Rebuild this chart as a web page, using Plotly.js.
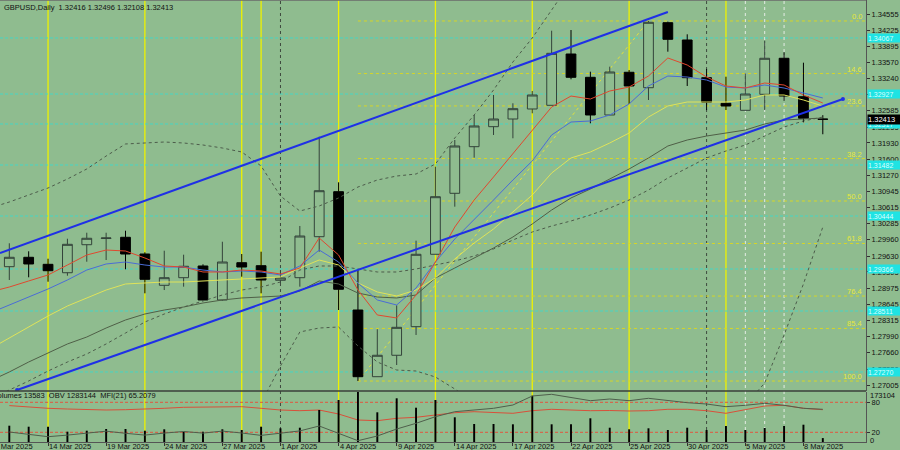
<!DOCTYPE html>
<html><head><meta charset="utf-8">
<script src="https://cdn.plot.ly/plotly-3.0.1.min.js"></script>
<style>html,body{margin:0;padding:0;background:#8FBC8F;}#chart{width:900px;height:450px;}</style>
</head><body><div id="chart"></div>
<script>
const dates = ["12 Mar 2025","13 Mar 2025","14 Mar 2025","17 Mar 2025","18 Mar 2025","19 Mar 2025","20 Mar 2025","21 Mar 2025","24 Mar 2025","25 Mar 2025","26 Mar 2025","27 Mar 2025","28 Mar 2025","31 Mar 2025","1 Apr 2025","2 Apr 2025","3 Apr 2025","4 Apr 2025","7 Apr 2025","8 Apr 2025","9 Apr 2025","10 Apr 2025","11 Apr 2025","14 Apr 2025","15 Apr 2025","16 Apr 2025","17 Apr 2025","18 Apr 2025","21 Apr 2025","22 Apr 2025","23 Apr 2025","24 Apr 2025","25 Apr 2025","28 Apr 2025","29 Apr 2025","30 Apr 2025","1 May 2025","2 May 2025","5 May 2025","6 May 2025","7 May 2025","8 May 2025","9 May 2025"];
const open  = [1.29413,1.29604,1.29461,1.29290,1.29860,1.29986,1.30011,1.29671,1.29034,1.29189,1.29427,1.28735,1.29494,1.29433,1.29136,1.29189,1.30023,1.30939,1.28531,1.27174,1.27610,1.28192,1.29665,1.30906,1.31855,1.32262,1.32418,1.32622,1.32697,1.33741,1.33267,1.32500,1.33369,1.33055,1.34378,1.34026,1.33259,1.32738,1.32595,1.32921,1.33654,1.32872,1.32416];
const high  = [1.29889,1.29726,1.29575,1.29982,1.30104,1.30104,1.30145,1.29706,1.29738,1.29657,1.29461,1.29921,1.29671,1.29718,1.29345,1.30241,1.32058,1.31130,1.29345,1.28139,1.28627,1.29942,1.31448,1.31991,1.32500,1.32907,1.32738,1.32988,1.34215,1.34229,1.33381,1.33483,1.33415,1.34413,1.34400,1.34142,1.33436,1.33279,1.33348,1.34012,1.33776,1.33564,1.32496];
const low   = [1.29142,1.29197,1.29107,1.29229,1.29514,1.29549,1.29360,1.28871,1.28938,1.29006,1.28725,1.28721,1.29209,1.28871,1.29081,1.29006,1.29718,1.28531,1.27086,1.27174,1.27412,1.28023,1.29665,1.30634,1.31631,1.32093,1.32026,1.32534,1.32697,1.33226,1.32331,1.32500,1.32724,1.32805,1.33788,1.33090,1.32601,1.32601,1.32595,1.32601,1.32791,1.32351,1.32108];
const close = [1.29604,1.29468,1.29331,1.29868,1.29991,1.29997,1.29671,1.29156,1.29189,1.29421,1.28735,1.29508,1.29406,1.29142,1.29183,1.30037,1.30959,1.28953,1.27174,1.27610,1.28179,1.29665,1.30837,1.31869,1.32276,1.32418,1.32628,1.32907,1.33755,1.33267,1.32500,1.33375,1.33090,1.34386,1.34040,1.33259,1.32758,1.32683,1.32927,1.33654,1.32886,1.32433,1.32413];

// indicator lines: first value is the bar before 12 Mar (11 Mar)
const maRed    = [1.28898,1.28999,1.29122,1.29244,1.29447,1.29651,1.29752,1.29732,1.29590,1.29427,1.29406,1.29305,1.29305,1.29345,1.29325,1.29264,1.29386,1.29997,1.29651,1.28938,1.28430,1.28369,1.28837,1.29508,1.30220,1.30770,1.31238,1.31706,1.32174,1.32662,1.32886,1.32825,1.32988,1.33069,1.33293,1.33660,1.33517,1.33273,1.33090,1.33049,1.33151,1.33110,1.32907,1.32744];
const maBlue   = [1.28470,1.28633,1.28796,1.28959,1.29142,1.29345,1.29468,1.29508,1.29447,1.29406,1.29406,1.29345,1.29305,1.29325,1.29305,1.29244,1.29427,1.29752,1.29508,1.29081,1.28735,1.28633,1.28979,1.29508,1.29976,1.30363,1.30770,1.31177,1.31564,1.32093,1.32357,1.32378,1.32500,1.32724,1.33090,1.33293,1.33273,1.33212,1.33069,1.33049,1.33110,1.33049,1.32947,1.32846];
const maYellow = [1.27738,1.27962,1.28185,1.28409,1.28613,1.28776,1.28938,1.29061,1.29081,1.29101,1.29101,1.29122,1.29142,1.29162,1.29183,1.29203,1.29386,1.29549,1.29447,1.29081,1.28898,1.28816,1.28938,1.29183,1.29569,1.29895,1.30180,1.30526,1.30872,1.31319,1.31625,1.31747,1.31930,1.32133,1.32459,1.32683,1.32764,1.32764,1.32764,1.32805,1.32907,1.32907,1.32805,1.32683];
const maOlive  = [1.27087,1.27270,1.27473,1.27656,1.27840,1.27982,1.28165,1.28328,1.28450,1.28531,1.28592,1.28674,1.28735,1.28776,1.28796,1.28816,1.28918,1.29122,1.29061,1.28877,1.28796,1.28776,1.28837,1.29183,1.29386,1.29590,1.29793,1.30017,1.30282,1.30566,1.30811,1.30994,1.31197,1.31401,1.31625,1.31869,1.31991,1.32072,1.32133,1.32194,1.32317,1.32398,1.32418,1.32439];
const bandUpper = [1.30607,1.30729,1.30872,1.31014,1.31197,1.31401,1.31665,1.31910,1.31930,1.31950,1.31930,1.31889,1.31828,1.31747,1.31462,1.30851,1.30546,1.30648,1.30811,1.31034,1.31177,1.31258,1.31299,1.31503,1.32032,1.32500,1.33008,1.33578,1.34067,1.34636,1.35206,null,null,null,null,null,null,null,null,null,null,null,null,null];
const bandLower = [null,null,null,null,null,null,null,null,null,null,null,null,null,null,1.26639,1.27392,1.28084,1.28165,1.28185,1.27799,1.27473,1.27310,1.27290,1.27168,1.26924,1.26659,null,null,null,null,null,null,null,null,null,null,null,null,null,1.26598,1.27046,1.28023,1.29061,1.30220];
const bandMid  = [1.26720,1.26903,1.27087,1.27290,1.27473,1.27636,1.27840,1.28063,1.28287,1.28450,1.28592,1.28715,1.28837,1.28938,1.28999,1.29101,1.29345,1.29427,1.29427,1.29366,1.29305,1.29305,1.29366,1.29447,1.29529,1.29630,1.29773,1.29956,1.30119,1.30241,1.30343,1.30465,1.30607,1.30770,1.30973,1.31218,1.31421,1.31625,1.31767,1.31889,1.32072,1.32255,1.32378,1.32459];

const volumes = [56431,52969,52969,35659,39121,45006,45006,39121,43967,35659,35659,43967,41544,52969,47429,49507,110784,145404,173104,102821,151289,118747,145404,85511,62316,62316,61277,160291,61277,61277,82049,49507,43967,47429,41544,49507,41544,55392,41544,48468,55392,59893,13583];
const obv = [788284,735964,685824,720704,759944,805724,759944,720704,764304,799184,764304,807904,766484,714164,762124,812264,919084,759944,598624,701084,853684,977944,1121824,1230824,1267884,1304944,1376884,1573084,1610144,1544744,1470624,1507684,1470624,1522944,1470624,1427024,1398684,1339824,1370344,1413944,1370344,1304944,1283144];
const mfi = [73.4,70.6,68.0,66.6,65.2,64.6,65.2,66.0,68.0,70.0,70.6,71.0,71.2,68.0,64.6,63.2,64.6,56.6,44.6,43.2,48.0,50.0,54.6,59.2,61.2,59.2,58.0,63.2,66.0,64.6,63.2,63.6,62.6,63.2,66.0,66.0,63.2,58.0,64.6,72.6,74.0,68.0,65.2079];

const priceTicks = [1.34555,1.34225,1.33895,1.33570,1.33240,1.32915,1.32585,1.32255,1.31930,1.31600,1.31270,1.30945,1.30615,1.30285,1.29960,1.29630,1.29305,1.28975,1.28645,1.28315,1.27990,1.27660,1.27330,1.27005];
const hiddenTicks = [1.32915];   // covered by a price label in the reference
const dateTickBars = [-1,2,5,8,11,14,17,20,23,26,29,32,35,38,41];
const dateTickLabels = ["11 Mar 2025","14 Mar 2025","19 Mar 2025","24 Mar 2025","27 Mar 2025","1 Apr 2025","4 Apr 2025","9 Apr 2025","14 Apr 2025","17 Apr 2025","22 Apr 2025","25 Apr 2025","30 Apr 2025","5 May 2025","8 May 2025"];
const fibLevels = [0,14.6,23.6,38.2,50,61.8,76.4,85.4,100];
const fibLowBar = 18, fibHighBar = 33;
const pivotLevels = [1.34067,1.32927,1.32317,1.31482,1.30444,1.29366,1.28511,1.27270];
const yellowBars = [2,7,12,13,17,22,27,32,37];
const monthBars = [14,36];
const lightBars = [38,39,40];
const trendUpperX = [-0.48,34.0], trendUpperY = [1.29691,1.34596];
const trendLowerX = [0.40,43.04], trendLowerY = [1.26903,1.32825];
const mfiLevels = [80,20];
const header = "GBPUSD,Daily  1.32416 1.32496 1.32108 1.32413";
const subHeader = "Volumes 13583  OBV 1283144  MFI(21) 65.2079";

const bars = dates.map((d,i)=>i);
const maBars = [-1].concat(bars);
const xMin = -0.48, xMax = 44.23;
const BG = '#8FBC8F';
const FONT = 'Liberation Sans, Arial, sans-serif';

function line(y, color, dash, width){
  return {type:'scatter', mode:'lines', x:maBars, y:y, xaxis:'x', yaxis:'y', hoverinfo:'skip',
    line:{color:color, width:width||1, dash:dash||'solid'}, connectgaps:false};
}
const traces = [
  line(bandMid,'#4d5c4b','dot'),
  line(bandUpper,'#4d5c4b','dot'),
  line(bandLower,'#4d5c4b','dot'),
  line(maOlive,'#4f5f47','solid'),
  line(maYellow,'#dfe35a','solid'),
  line(maBlue,'#4a6cd6','solid'),
  line(maRed,'#e0482f','solid'),
  {type:'candlestick', x:bars, open:open, high:high, low:low, close:close, xaxis:'x', yaxis:'y',
   increasing:{line:{color:'#33433a', width:1}, fillcolor:BG},
   decreasing:{line:{color:'#000000', width:1}, fillcolor:'#000000'},
   whiskerwidth:0, hoverinfo:'skip'},
  {type:'scatter', mode:'lines', x:trendUpperX, y:trendUpperY, xaxis:'x', yaxis:'y', line:{color:'#1f30e6', width:2}, hoverinfo:'skip'},
  {type:'scatter', mode:'lines+markers', x:trendLowerX, y:trendLowerY, xaxis:'x', yaxis:'y', line:{color:'#1f30e6', width:2}, marker:{size:4,color:'#1f30e6'}, hoverinfo:'skip'},
  {type:'bar', x:bars, y:volumes, xaxis:'x2', yaxis:'y3', marker:{color:'#000000', line:{width:0}}, width:0.1, hoverinfo:'skip'},
  {type:'scatter', mode:'lines', x:bars, y:obv, xaxis:'x2', yaxis:'y4', line:{color:'#4f5f4c', width:1}, hoverinfo:'skip'},
  {type:'scatter', mode:'lines', x:bars, y:mfi, xaxis:'x2', yaxis:'y2', line:{color:'#d9503a', width:1}, hoverinfo:'skip'}
];

const shapes = [];
const sepY = 51/442;
yellowBars.forEach(b=>shapes.push({type:'line', xref:'x', yref:'paper', x0:b, x1:b, y0:0, y1:1, layer:'below', line:{color:'#eef200', width:1.3}}));
monthBars.forEach(b=>shapes.push({type:'line', xref:'x', yref:'paper', x0:b, x1:b, y0:0, y1:1, layer:'below', line:{color:'#3e4a3e', width:1, dash:'dot'}}));
lightBars.forEach(b=>shapes.push({type:'line', xref:'x', yref:'paper', x0:b, x1:b, y0:0, y1:1, layer:'below', line:{color:'#e4ece4', width:1, dash:'dot'}}));
pivotLevels.forEach(p=>shapes.push({type:'line', xref:'paper', yref:'y', x0:0, x1:1, y0:p, y1:p, layer:'below', line:{color:'#46d6c4', width:1, dash:'3px,2px'}}));
const fibHi = high[fibHighBar], fibLo = low[fibLowBar];
fibLevels.forEach(l=>{const p = fibHi - (fibHi-fibLo)*l/100;
  shapes.push({type:'line', xref:'x', yref:'y', x0:fibLowBar, x1:xMax+2, y0:p, y1:p, layer:'below', line:{color:'#d6d628', width:1, dash:'dot'}});});
shapes.push({type:'line', xref:'x', yref:'y', x0:fibLowBar, x1:fibHighBar, y0:fibLo, y1:fibHi, layer:'below', line:{color:'#e2e23c', width:1, dash:'dot'}});
mfiLevels.forEach(v=>shapes.push({type:'line', xref:'paper', yref:'y2', x0:0, x1:1, y0:v, y1:v, layer:'below', line:{color:'#e0553f', width:1, dash:'3px,2px'}}));
shapes.push({type:'line', xref:'paper', yref:'paper', x0:0, x1:1, y0:sepY, y1:sepY, line:{color:'#3a3f3a', width:1.5}});
shapes.push({type:'line', xref:'paper', yref:'paper', x0:0, x1:1, y0:1, y1:1, line:{color:'#6a6a6a', width:1.5}});

const annotations = [];
const tf = {family:FONT, size:7.5, color:'#111'};
annotations.push({xref:'paper', yref:'paper', x:0.002, y:1, xanchor:'left', yanchor:'top', yshift:-1, text:header, showarrow:false, font:tf});
annotations.push({xref:'paper', yref:'paper', x:-9/866, y:(442-395)/442, xanchor:'left', yanchor:'middle', text:subHeader, showarrow:false, font:tf});
dateTickBars.forEach((b,i)=>{
  const inRange = b >= xMin;
  annotations.push({xref: inRange?'x2':'paper', x: inRange? b : (b-xMin)/(xMax-xMin), yref:'paper', y:-4/442, xanchor:'left', yanchor:'middle', xshift:-1, text:dateTickLabels[i], showarrow:false, font:tf});
});
fibLevels.forEach(l=>{const p = fibHi - (fibHi-fibLo)*l/100;
  annotations.push({xref:'paper', yref:'y', x:1, y:p, xanchor:'right', yanchor:'bottom', xshift:-2, yshift:-2, text:l.toFixed(1), showarrow:false, font:{family:FONT, size:7.5, color:'#e8e83a'}});});
pivotLevels.forEach(p=>annotations.push({xref:'paper', yref:'y', x:1, y:p, xanchor:'left', yanchor:'middle', xshift:1, text:p.toFixed(5), showarrow:false, bgcolor:'#1fe3e3', borderpad:0, width:33, height:8, align:'left', valign:'middle', font:{family:FONT, size:7, color:'#d8ffff'}}));
annotations.push({xref:'paper', yref:'y', x:1, y:close[close.length-1], xanchor:'left', yanchor:'middle', xshift:1, text:close[close.length-1].toFixed(5), showarrow:false, bgcolor:'#000000', borderpad:0, width:33, height:9, align:'left', valign:'middle', font:{family:FONT, size:7.5, color:'#ffffff'}});
annotations.push({xref:'paper', yref:'paper', x:1, y:(442-395)/442, xanchor:'left', yanchor:'middle', xshift:2, text:String(Math.max(...volumes)), showarrow:false, font:tf});
annotations.push({xref:'paper', yref:'paper', x:1, y:(442-440)/442, xanchor:'left', yanchor:'middle', xshift:2, text:'0', showarrow:false, font:tf});

const layout = {
  width:900, height:450, margin:{l:0, r:34, t:0, b:8},
  paper_bgcolor:BG, plot_bgcolor:BG, showlegend:false, boxgap:0.28,
  font:{family:FONT, size:7.5, color:'#111'},
  xaxis:{domain:[0,1], range:[xMin,xMax], anchor:'y', showgrid:false, zeroline:false, showticklabels:false, ticks:'', rangeslider:{visible:false}, fixedrange:true},
  yaxis:{domain:[sepY,1], range:[1.26883,1.34840], side:'right', anchor:'x', showgrid:false, zeroline:false,
         tickvals:priceTicks, ticktext:priceTicks.map(v=>hiddenTicks.includes(v)?'':v.toFixed(5)), ticks:'outside', ticklen:3, tickcolor:'#333',
         showline:true, linecolor:'#555', linewidth:1, tickfont:tf},
  xaxis2:{domain:[0,1], range:[xMin,xMax], anchor:'y2', showgrid:false, zeroline:false, tickvals:dateTickBars.filter(b=>b>=xMin),
          ticktext:dateTickBars.filter(b=>b>=xMin).map(()=>''), ticks:'outside', ticklen:3, tickcolor:'#333', showline:true, linecolor:'#555', linewidth:1},
  yaxis2:{domain:[0,sepY-1/442], range:[0.6,100.6], side:'right', anchor:'x2', tickvals:mfiLevels, ticktext:mfiLevels.map(String), ticks:'outside', ticklen:3, tickcolor:'#333',
          showgrid:false, zeroline:false, showline:true, linecolor:'#555', linewidth:1, tickfont:tf},
  yaxis3:{overlaying:'y2', anchor:'x2', range:[0,173104], visible:false, showgrid:false, zeroline:false},
  yaxis4:{overlaying:'y2', anchor:'x2', range:[570284,1660284], visible:false, showgrid:false, zeroline:false},
  shapes:shapes, annotations:annotations
};
Plotly.newPlot('chart', traces, layout, {staticPlot:true, displayModeBar:false});
</script></body></html>
